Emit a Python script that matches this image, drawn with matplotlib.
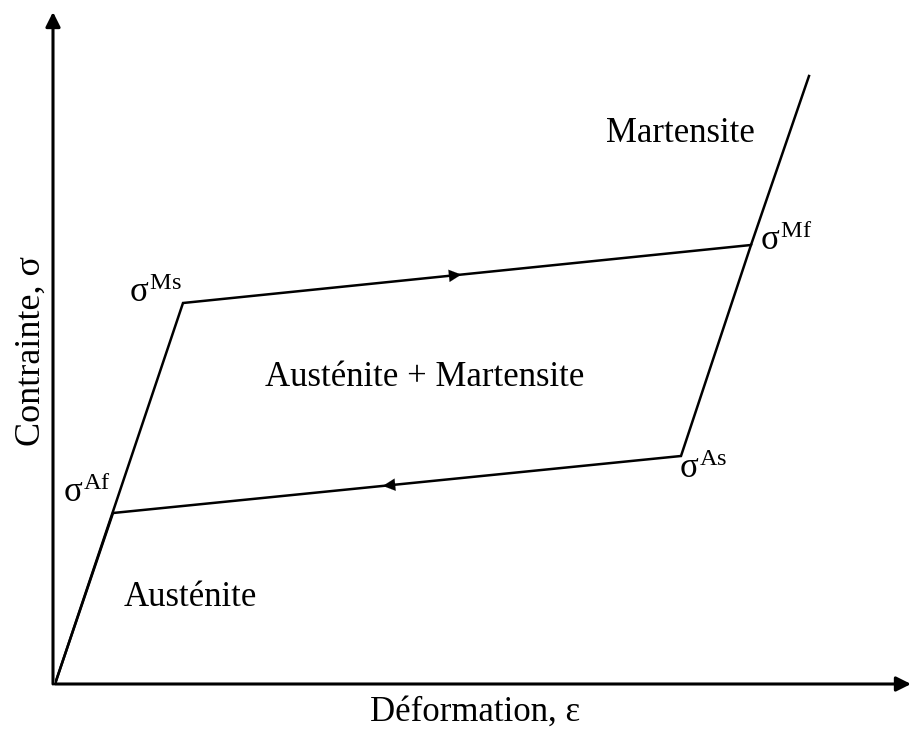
import matplotlib

matplotlib.use("Agg")
import matplotlib.pyplot as plt
import numpy as np

# Corner points of the pseudo-elastic loop (arbitrary units)
STRAIN_LOAD = [0, 128, 696, 754]     # origin -> Ms -> Mf -> martensite
STRESS_LOAD = [0, 381, 439, 608]
STRAIN_UNLOAD = [696, 626, 58, 0]    # Mf -> As -> Af -> origin
STRESS_UNLOAD = [439, 228, 171, 0]

POINT_NAMES = ["Ms", "Mf", "As", "Af"]
POINT_XY = {"Ms": (128, 381), "Mf": (696, 439), "As": (626, 228), "Af": (58, 171)}


def main() -> None:
    plt.rcParams.update(
        {
            "font.family": "Liberation Serif",
            "mathtext.fontset": "custom",
            "mathtext.rm": "Liberation Serif",
            "mathtext.it": "Liberation Serif",
            "mathtext.bf": "Liberation Serif:bold",
        }
    )

    fig = plt.figure(figsize=(9.11, 7.29), dpi=100)
    ax = fig.add_axes([55 / 911, 45 / 729, 856 / 911, 672 / 729])
    ax.set_xlim(0, 856)
    ax.set_ylim(0, 672)
    ax.axis("off")

    black = "#000000"
    lw = 1.8

    # axes arrows
    ax.annotate("", xy=(856, 0), xytext=(0, 0), annotation_clip=False,
                arrowprops=dict(arrowstyle="-|>", color=black, lw=2.2,
                                mutation_scale=22, shrinkA=0, shrinkB=0))
    ax.annotate("", xy=(-2, 672), xytext=(-2, 0), annotation_clip=False,
                arrowprops=dict(arrowstyle="-|>", color=black, lw=2.2,
                                mutation_scale=22, shrinkA=0, shrinkB=0))

    ax.plot(STRAIN_LOAD, STRESS_LOAD, color=black, lw=lw, solid_joinstyle="miter")
    ax.plot(STRAIN_UNLOAD, STRESS_UNLOAD, color=black, lw=lw, solid_joinstyle="miter")

    # direction arrows on the plateaus
    def mid_arrow(p0, p1, frac):
        p0 = np.array(p0, float)
        p1 = np.array(p1, float)
        tip = p0 + frac * (p1 - p0)
        tail = tip - 0.03 * (p1 - p0)
        ax.annotate("", xy=tip, xytext=tail,
                    arrowprops=dict(arrowstyle="-|>", color=black, lw=0.1,
                                    mutation_scale=22, shrinkA=0, shrinkB=0))

    mid_arrow(POINT_XY["Ms"], POINT_XY["Mf"], 0.49)
    mid_arrow(POINT_XY["As"], POINT_XY["Af"], 0.525)

    fs = 25
    offsets = {
        "Ms": (-1, 9, "right", "center"),
        "Mf": (9, 4, "left", "center"),
        "As": (-2, -14, "left", "center"),
        "Af": (-2, 20, "right", "center"),
    }
    for name in POINT_NAMES:
        x, y = POINT_XY[name]
        dx, dy, ha, va = offsets[name]
        ax.text(x + dx, y + dy, r"$\sigma^{\mathrm{" + name + "}}$",
                fontsize=fs, ha=ha, va=va)

    ax.text(625, 551, "Martensite", fontsize=fs, ha="center", va="center")
    ax.text(370, 307, "Austénite + Martensite", fontsize=fs, ha="center", va="center")
    ax.text(135, 86, "Austénite", fontsize=fs, ha="center", va="center")

    fig.text(475 / 911, 1 - 712 / 729, "Déformation, ε", fontsize=fs,
             ha="center", va="center")
    fig.text(31 / 911, 1 - 351 / 729, "Contrainte, σ", fontsize=fs + 1,
             ha="center", va="center", rotation=90)

    fig.savefig("out.png", dpi=100, facecolor="white")
    plt.close(fig)


if __name__ == "__main__":
    main()
